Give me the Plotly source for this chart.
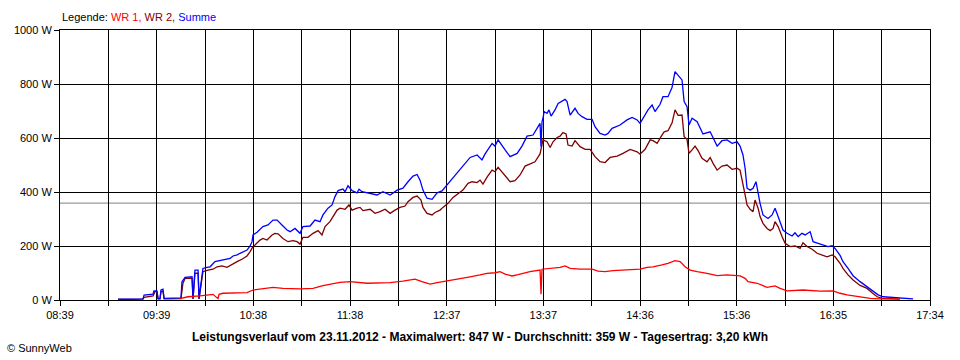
import plotly.graph_objects as go
import numpy as np

# ---- data (minutes since midnight, watts) ----
wr1_t = [592.8, 597.7, 605.1, 613.1, 616.2, 616.8, 619.2, 634.0, 637.7, 646.3, 650.0, 656.1, 666.6, 674.6,
         680.7, 691.2, 697.4, 707.8, 722.0, 729.9, 737.3, 741.6, 746.6, 750.9, 757.0, 763.2, 771.2, 777.3,
         781.6, 786.5, 789.6, 792.7, 797.0, 800.7, 808.0, 814.2, 814.8, 815.4, 820.4, 826.5, 829.6, 832.7,
         838.8, 846.2, 849.9, 854.2, 859.1, 867.7, 875.7, 880.0, 883.7, 889.2, 892.9, 897.2, 900.3, 903.4,
         906.5, 910.8, 916.9, 923.1, 929.2, 937.2, 940.3, 942.1, 947.7, 953.8, 958.7, 961.8, 966.1, 975.9,
         986.4, 994.4, 998.7, 1003.0, 1006.7, 1011.0, 1017.2, 1023.3, 1035.6]
wr1_w = [5, 12, 15, 21, 5, 21, 25, 27, 37, 43, 47, 43, 41, 43,
         53, 65, 68, 62, 64, 70, 77, 68, 59, 64, 70, 78, 86, 93,
         99, 101, 105, 96, 89, 94, 105, 111, 21, 114, 117, 121, 126, 117,
         114, 114, 107, 105, 109, 111, 114, 121, 123, 130, 136, 146, 142, 123,
         111, 105, 99, 90, 93, 89, 80, 68, 62, 47, 52, 43, 34, 37,
         33, 34, 25, 19, 15, 11, 6, 4, 4]

wr2_t = [554.7, 570.0, 570.7, 576.2, 577.4, 578.6, 579.3, 580.5, 581.1, 582.3, 583.0, 593.4, 594.6, 595.9,
         600.2, 600.8, 602.0, 603.9, 604.5, 606.9, 610.0, 613.1, 615.6, 618.6, 621.7, 624.8, 627.9, 630.9,
         634.0, 635.9, 637.7, 638.9, 642.0, 643.8, 646.3, 649.4, 651.2, 653.1, 656.1, 659.2, 662.3, 664.8,
         666.6, 668.4, 671.5, 674.6, 677.7, 680.1, 682.0, 685.0, 686.9, 689.4, 691.2, 694.3, 696.7, 698.6,
         701.7, 703.5, 705.3, 709.7, 712.7, 715.8, 718.9, 722.0, 725.0, 728.1, 731.2, 733.0, 736.1, 738.6,
         741.0, 742.2, 744.7, 747.8, 749.6, 752.7, 754.5, 757.6, 760.7, 763.8, 766.8, 769.9, 772.4, 775.5,
         777.3, 779.1, 781.6, 784.7, 786.5, 788.4, 791.4, 795.8, 798.8, 801.9, 805.0, 808.0, 811.1, 814.2,
         816.0, 818.5, 820.4, 822.2, 824.7, 826.5, 828.3, 830.2, 831.4, 833.9, 835.7, 838.8, 841.9, 845.0,
         848.0, 851.1, 854.2, 857.3, 861.6, 865.2, 869.6, 873.9, 875.7, 878.8, 881.9, 883.7, 886.2, 888.6,
         890.5, 892.9, 895.4, 897.2, 899.1, 901.5, 902.8, 904.6, 905.8, 907.7, 909.5, 911.4, 913.8, 916.9,
         918.8, 920.6, 923.1, 926.1, 929.2, 932.3, 935.4, 937.2, 939.0, 940.3, 941.5, 943.4, 945.2, 946.4,
         948.3, 949.5, 951.3, 953.8, 955.7, 957.5, 958.7, 960.6, 963.0, 964.9, 968.0, 971.0, 974.1, 975.9,
         978.4, 981.5, 984.6, 987.6, 990.7, 993.8, 995.6, 998.7, 1000.5, 1003.6, 1006.7, 1011.0, 1015.3, 1018.4,
         1021.5, 1024.5, 1029.5, 1035.6]
wr2_w = [2, 3, 10, 15, 31, 31, 4, 4, 31, 33, 4, 5, 62, 80,
         80, 4, 99, 99, 4, 105, 111, 114, 123, 126, 121, 130, 142, 151,
         163, 179, 198, 204, 222, 228, 222, 241, 247, 245, 228, 216, 220, 216,
         207, 232, 232, 247, 257, 241, 272, 290, 309, 333, 340, 336, 352, 333,
         340, 343, 331, 336, 321, 327, 336, 321, 333, 343, 348, 364, 380, 385,
         370, 343, 321, 315, 324, 333, 343, 358, 380, 393, 407, 432, 438, 435,
         444, 429, 455, 481, 475, 491, 469, 438, 442, 463, 496, 504, 512, 541,
         593, 586, 565, 586, 602, 607, 620, 615, 574, 570, 590, 568, 558, 558,
         531, 512, 509, 528, 533, 543, 558, 549, 540, 558, 593, 590, 580, 605,
         623, 627, 656, 704, 684, 685, 605, 595, 543, 556, 570, 553, 525, 512,
         528, 506, 481, 496, 500, 484, 488, 481, 420, 389, 352, 336, 327, 370,
         340, 309, 284, 265, 257, 265, 290, 272, 235, 210, 198, 200, 191, 212,
         198, 188, 173, 167, 160, 167, 160, 136, 117, 93, 74, 54, 43, 27,
         12, 6, 4, 3]

sum_t = [554.7, 570.0, 570.7, 576.2, 576.8, 578.6, 579.3, 580.5, 581.1, 582.3, 583.0, 593.4, 594.0, 595.9,
         600.2, 600.8, 602.0, 603.9, 604.5, 606.9, 609.4, 611.3, 614.3, 617.4, 620.5, 623.6, 625.4, 627.9,
         629.7, 634.0, 635.9, 637.1, 637.7, 640.2, 643.8, 646.9, 650.0, 652.5, 655.5, 658.6, 660.5, 663.5,
         666.6, 668.4, 672.8, 675.8, 678.9, 680.7, 683.8, 686.3, 688.1, 690.0, 693.0, 694.3, 696.1, 698.6,
         701.7, 702.9, 704.7, 709.7, 714.0, 717.6, 722.0, 726.3, 729.9, 733.0, 736.1, 738.6, 740.4, 742.2,
         744.7, 747.8, 750.9, 753.9, 757.0, 760.7, 765.0, 768.1, 771.2, 775.5, 778.5, 780.4, 783.5, 784.7,
         786.5, 788.4, 792.7, 795.8, 800.1, 803.1, 806.2, 809.9, 813.0, 814.2, 814.8, 815.4, 816.0, 816.7,
         818.5, 819.7, 821.0, 823.4, 825.3, 827.7, 829.6, 830.8, 832.7, 835.7, 837.6, 840.0, 843.1, 846.2,
         848.0, 851.1, 854.2, 856.0, 858.5, 863.4, 867.7, 870.8, 873.9, 875.7, 877.5, 880.6, 883.1, 884.9,
         888.0, 889.8, 892.9, 895.4, 897.2, 899.1, 901.5, 902.8, 904.6, 905.8, 907.7, 910.8, 912.6, 914.4,
         918.8, 920.6, 923.1, 926.1, 929.2, 932.3, 935.4, 937.2, 939.0, 940.3, 941.5, 943.4, 945.2, 947.0,
         948.3, 949.5, 951.3, 954.4, 956.9, 958.7, 960.6, 963.6, 966.1, 969.2, 971.0, 972.9, 975.3, 977.2,
         980.3, 982.1, 985.2, 988.2, 991.3, 993.8, 995.6, 998.7, 1000.5, 1003.6, 1006.7, 1011.0, 1015.3, 1019.0,
         1022.1, 1025.1, 1029.5, 1035.6, 1043.6]
sum_w = [3, 4, 18, 22, 34, 34, 5, 5, 37, 40, 6, 8, 68, 84,
         86, 5, 111, 111, 5, 117, 121, 123, 142, 146, 151, 154, 163, 167,
         173, 185, 200, 216, 241, 251, 272, 278, 296, 296, 278, 259, 253, 265,
         247, 272, 274, 296, 290, 315, 340, 352, 383, 405, 411, 401, 423, 405,
         397, 410, 401, 395, 389, 401, 389, 407, 414, 438, 459, 465, 444, 407,
         377, 373, 397, 404, 426, 454, 481, 506, 528, 537, 519, 541, 570, 580,
         570, 593, 556, 531, 543, 570, 607, 611, 642, 654, 568, 660, 673, 698,
         691, 704, 681, 704, 728, 735, 743, 735, 685, 710, 691, 679, 669, 669,
         642, 617, 611, 617, 636, 648, 667, 676, 667, 654, 673, 704, 722, 698,
         725, 753, 753, 788, 846, 832, 815, 735, 716, 648, 673, 660, 636, 615,
         623, 602, 570, 590, 593, 580, 586, 570, 537, 488, 414, 407, 414, 438,
         395, 358, 315, 302, 315, 340, 309, 259, 247, 237, 249, 235, 247, 241,
         253, 216, 210, 204, 198, 201, 191, 165, 142, 117, 90, 68, 49, 31,
         19, 12, 10, 6, 4]

average_w = 359
x_start = "08:39"
x_end = "17:34"
n_grid = 18
x_labels = ["08:39", "09:39", "10:38", "11:38", "12:37", "13:37", "14:36", "15:36", "16:35", "17:34"]
y_ticks = [0, 200, 400, 600, 800, 1000]
series_names = ["WR 1", "WR 2", "Summe"]
series_colors = ["#ff0000", "#800000", "#0000ff"]
title_text = ("Leistungsverlauf vom 23.11.2012 - Maximalwert: 847 W - Durchschnitt: 359 W"
              " - Tagesertrag: 3,20 kWh")


def to_min(s):
    h, m = s.split(":")
    return int(h) * 60 + int(m)


x0, x1 = to_min(x_start), to_min(x_end)
tickvals = list(np.linspace(x0, x1, n_grid + 1))
ticktext = []
for k in range(n_grid + 1):
    ticktext.append(x_labels[k // 2] if k % 2 == 0 else "")

FONT = "Liberation Sans, Arial, sans-serif"

fig = go.Figure()
fig.add_hline(y=average_w, line=dict(color="#999999", width=1.3), layer="below")
fig.add_trace(go.Scatter(x=wr2_t, y=wr2_w, mode="lines", name=series_names[1],
                         line=dict(color=series_colors[1], width=1.3)))
fig.add_trace(go.Scatter(x=sum_t, y=sum_w, mode="lines", name=series_names[2],
                         line=dict(color=series_colors[2], width=1.3)))
fig.add_trace(go.Scatter(x=wr1_t, y=wr1_w, mode="lines", name=series_names[0],
                         line=dict(color=series_colors[0], width=1.3)))

legend_html = ('<span style="color:#000000">Legende: </span>'
               f'<span style="color:{series_colors[0]}">{series_names[0]}, </span>'
               f'<span style="color:{series_colors[1]}">{series_names[1]}, </span>'
               f'<span style="color:{series_colors[2]}">{series_names[2]}</span>')

fig.update_layout(
    width=960, height=360,
    margin=dict(l=60, r=30, t=30, b=60),
    paper_bgcolor="white", plot_bgcolor="white",
    showlegend=False,
    font=dict(family=FONT, size=11, color="black"),
    xaxis=dict(range=[x0, x1], tickmode="array", tickvals=tickvals, ticktext=ticktext,
               showgrid=True, gridcolor="black", gridwidth=1,
               showline=True, linecolor="black", linewidth=1, mirror=True,
               ticks="outside", ticklen=5, tickcolor="black", zeroline=False,
               tickfont=dict(size=11)),
    yaxis=dict(range=[0, 1000], tickmode="array", tickvals=y_ticks,
               ticktext=[f"{v} W" for v in y_ticks],
               showgrid=True, gridcolor="black", gridwidth=1,
               showline=True, linecolor="black", linewidth=1, mirror=True,
               ticks="outside", ticklen=5, tickcolor="black", zeroline=False,
               tickfont=dict(size=11)),
    annotations=[
        dict(text=legend_html, xref="paper", yref="paper", x=0, y=1.048,
             xanchor="left", yanchor="middle", showarrow=False, font=dict(size=11)),
        dict(text=f"<b>{title_text}</b>", xref="paper", yref="paper", x=0.4828, y=-0.137,
             xanchor="center", yanchor="middle", showarrow=False, font=dict(size=12)),
        dict(text="© SunnyWeb", xref="paper", yref="paper", x=-0.0632, y=-0.178,
             xanchor="left", yanchor="middle", showarrow=False, font=dict(size=11)),
    ],
)

fig.write_html("out.html", config={"displayModeBar": False},
               post_script="document.body.style.margin='0';document.body.style.overflow='hidden';")
